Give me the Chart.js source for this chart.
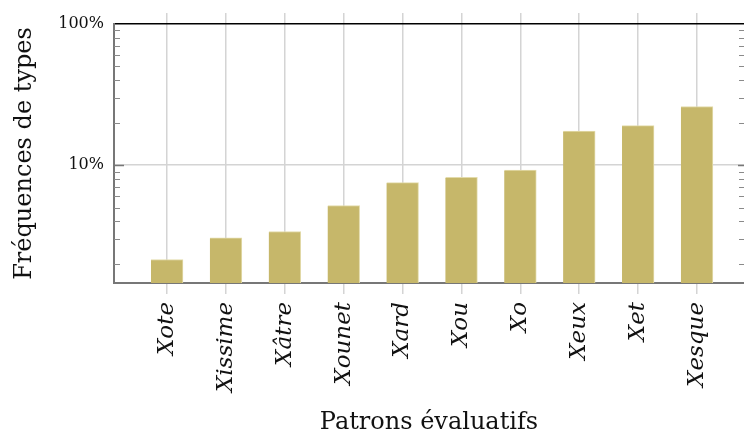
<!DOCTYPE html>
<html>
<head>
<meta charset="utf-8">
<script src="https://cdn.jsdelivr.net/npm/chart.js@4/dist/chart.umd.min.js"></script>
<style>
  html, body { margin: 0; padding: 0; background: #fff; }
  #wrap { width: 744px; height: 437px; }
</style>
</head>
<body>
<div id="wrap"><canvas id="c" width="744" height="437"></canvas></div>
<script>
const categories = ['Xote', 'Xissime', 'Xâtre', 'Xounet', 'Xard', 'Xou', 'Xo', 'Xeux', 'Xet', 'Xesque'];
const frequencies = [2.14, 3.05, 3.38, 5.17, 7.50, 8.18, 9.21, 17.4, 19.05, 26.0];
const yTickLabels = { 10: '10%', 100: '100%' };
const minorTicks = [2, 3, 4, 5, 6, 7, 8, 9, 20, 30, 40, 50, 60, 70, 80, 90];
const majorTicks = [10];

const SERIF = '"DejaVu Serif", serif';
const GRID = '#d4d4d4';

const catTicks = (scale) => { scale.ticks = categories.map((_, i) => ({ value: i })); };

const edgeTicks = {
  id: 'edgeTicks',
  afterDatasetsDraw(chart) {
    const { ctx, chartArea: a, scales: { y } } = chart;
    ctx.save();
    ctx.lineWidth = 1;
    ctx.strokeStyle = '#8a8a8a';
    minorTicks.forEach(v => {
      const py = Math.round(y.getPixelForValue(v)) + 0.5;
      ctx.beginPath();
      ctx.moveTo(a.left, py); ctx.lineTo(a.left + 6, py);
      ctx.moveTo(a.right, py); ctx.lineTo(a.right - 5, py);
      ctx.stroke();
    });
    ctx.strokeStyle = '#777';
    ctx.lineWidth = 1.5;
    majorTicks.forEach(v => {
      const py = Math.round(y.getPixelForValue(v)) + 0.5;
      ctx.beginPath();
      ctx.moveTo(a.left, py); ctx.lineTo(a.left + 10, py);
      ctx.moveTo(a.right, py); ctx.lineTo(a.right - 6, py);
      ctx.stroke();
    });
    ctx.restore();
  }
};

new Chart(document.getElementById('c'), {
  type: 'bar',
  data: {
    datasets: [{
      data: frequencies.map((v, i) => ({ x: i, y: v })),
      backgroundColor: '#c6b76a',
      borderColor: '#e3dbab',
      borderWidth: { top: 1, right: 1, left: 0, bottom: 0 },
      borderSkipped: false,
      barThickness: 32
    }]
  },
  options: {
    responsive: false,
    animation: false,
    layout: { padding: { left: 0, right: 0, top: 0, bottom: 0 } },
    plugins: { legend: { display: false }, tooltip: { enabled: false } },
    scales: {
      x: {
        type: 'linear',
        position: 'bottom',
        offset: false,
        min: -0.9,
        max: 9.8,
        afterBuildTicks: catTicks,
        afterFit: (s) => { s.height = 154; },
        grid: { offset: false, color: GRID, lineWidth: 1.5, tickLength: 11, drawTicks: true },
        border: { color: '#777', width: 2 },
        ticks: {
          autoSkip: false,
          maxRotation: 90,
          minRotation: 90,
          padding: 8,
          color: '#111',
          font: { family: SERIF, size: 23, style: 'italic' },
          callback: (v) => categories[v] ?? ''
        },
        title: {
          display: true,
          text: 'Patrons évaluatifs',
          color: '#111',
          font: { family: SERIF, size: 24 },
          padding: { top: 0, bottom: 0 }
        }
      },
      x2: {
        type: 'linear',
        position: 'top',
        offset: false,
        min: -0.9,
        max: 9.8,
        afterBuildTicks: catTicks,
        afterFit: (s) => { s.height = 24; },
        grid: { offset: false, color: GRID, lineWidth: 1.5, tickLength: 11, drawOnChartArea: false },
        border: { color: '#000', width: 1.5 },
        ticks: { display: false }
      },
      y: {
        type: 'logarithmic',
        position: 'left',
        min: 1.459,
        max: 100,
        afterFit: (s) => { s.width = 114; },
        grid: {
          drawTicks: false,
          lineWidth: 1.5,
          color: (c) => (c.tick && c.tick.value === 10 ? GRID : 'rgba(0,0,0,0)')
        },
        border: { color: '#777', width: 2 },
        ticks: {
          autoSkip: false,
          padding: 10,
          color: '#111',
          font: { family: SERIF, size: 16 },
          callback: (v) => yTickLabels[v] ?? ''
        },
        title: {
          display: true,
          text: 'Fréquences de types',
          color: '#111',
          font: { family: SERIF, size: 24 },
          padding: { top: 10, bottom: 0 }
        }
      }
    }
  },
  plugins: [edgeTicks]
});
</script>
</body>
</html>
